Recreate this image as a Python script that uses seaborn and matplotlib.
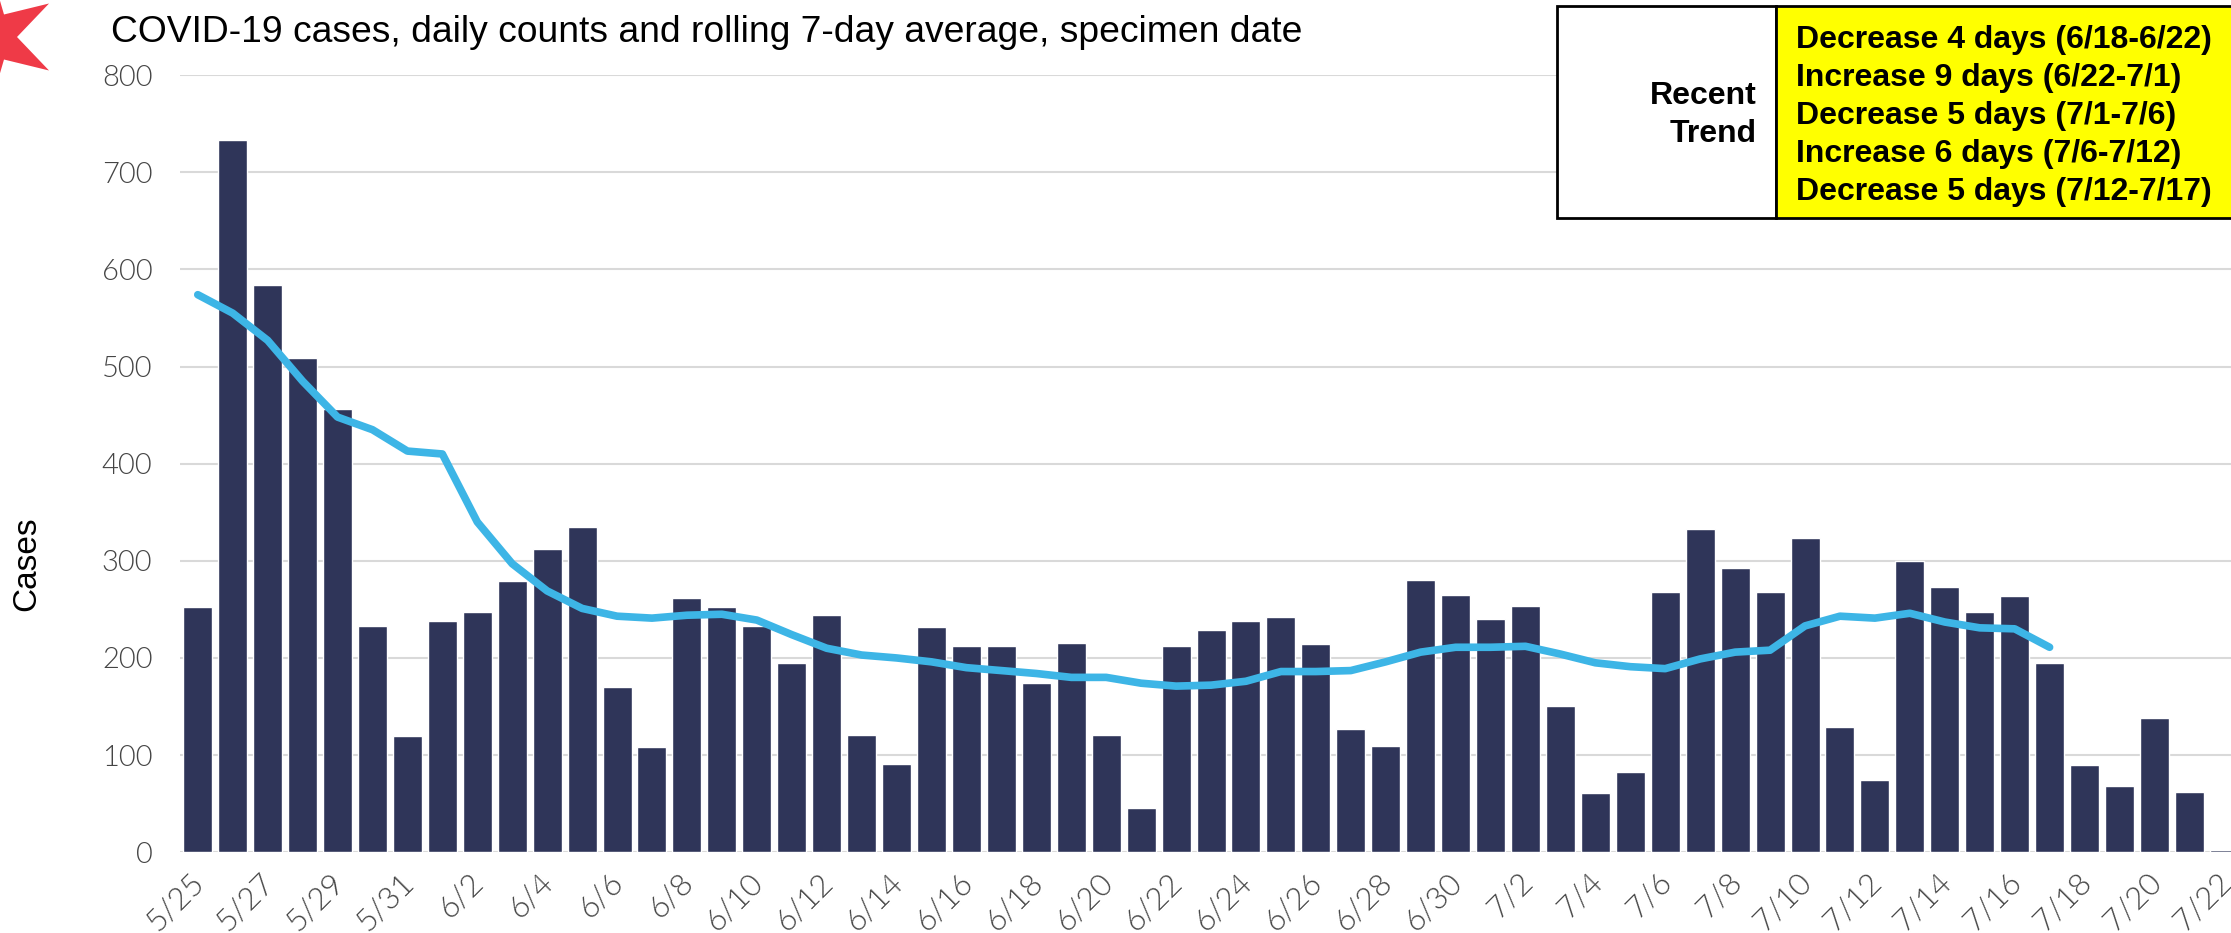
import numpy as np
import matplotlib
matplotlib.use("Agg")
import matplotlib.pyplot as plt
from matplotlib.patches import Polygon, Rectangle
from matplotlib.transforms import ScaledTranslation
import seaborn as sns

start_month_days = [("5", range(25, 32)), ("6", range(1, 31)), ("7", range(1, 23))]
days = [f"{m}/{d}" for m, rng in start_month_days for d in rng]

cases = [252, 733, 584, 509, 456, 233, 120, 238, 247, 279, 312, 335, 170, 108, 262,
         252, 233, 195, 244, 121, 91, 232, 212, 212, 174, 215, 121, 46, 212, 229,
         238, 242, 214, 127, 109, 280, 265, 240, 253, 151, 61, 83, 268, 333, 293,
         268, 324, 129, 74, 300, 273, 247, 264, 195, 90, 68, 138, 62, 2]
rolling_avg = [574, 555, 527, 485, 448, 435, 413, 410, 340, 297, 269, 251, 243, 241,
               244, 245, 239, 224, 210, 203, 200, 196, 190, 187, 184, 180, 180, 174,
               171, 172, 176, 186, 186, 187, 196, 206, 211, 211, 212, 204, 195, 191,
               189, 199, 206, 208, 233, 243, 241, 246, 237, 231, 230, 211]
y_ticks = [0, 100, 200, 300, 400, 500, 600, 700, 800]
trend_lines = ["Decrease 4 days (6/18-6/22)", "Increase 9 days (6/22-7/1)",
               "Decrease 5 days (7/1-7/6)", "Increase 6 days (7/6-7/12)",
               "Decrease 5 days (7/12-7/17)"]

W, H = 2231, 933
sns.set_theme(style="white")
plt.rcParams["font.family"] = ["Liberation Sans", "DejaVu Sans"]

fig = plt.figure(figsize=(W / 100, H / 100), dpi=100)
# axes runs past the right edge of the picture, the last bar gets cut
step = 34.94
ax = fig.add_axes([180.3 / W, 1 - 852.2 / H, step * 59 / W, 777 / H])


def px(x, y):
    # figure pixels from top left
    return x / W, 1 - y / H


sns.barplot(x=days, y=cases, color="#2F3559", width=0.83, saturation=1, ax=ax, zorder=2)
sns.lineplot(x=np.arange(len(rolling_avg)), y=rolling_avg, color="#3DB5E6", linewidth=5.5,
             solid_capstyle="round", ax=ax, zorder=3)

ax.set_xlim(-0.5, len(days) - 0.5)
ax.set_ylim(0, 800)
ax.set_yticks(y_ticks)
ax.set_xticks(range(0, len(days), 2))
ax.set_xticklabels(days[::2], rotation=45, ha="right", rotation_mode="anchor",
                   family="Lato", fontweight=300, fontsize=22.5, color="#454545")
ax.set_yticklabels(y_ticks, family="Lato", fontweight=300, fontsize=21, color="#454545")
ax.tick_params(axis="x", length=0, pad=11)
ax.tick_params(axis="y", length=0, pad=20)
# labels sit a bit left of the bar centres
label_shift = ScaledTranslation(-8 / 100, 0, fig.dpi_scale_trans)
for lab in ax.get_xticklabels():
    lab.set_transform(lab.get_transform() + label_shift)
ax.set_xlabel("")
ax.set_ylabel("")
ax.grid(axis="y", color="#D9D9D9", linewidth=1.5, zorder=0)
ax.set_axisbelow(True)
sns.despine(ax=ax, left=True, bottom=True, top=True, right=True)

fig.text(*px(111, 33), "COVID-19 cases, daily counts and rolling 7-day average, specimen date",
         fontsize=26.8, color="black", va="center", ha="left")
fig.text(*px(27, 564), "Cases", fontsize=24, rotation=90, va="center", ha="center", color="black")

# red star from the flag, mostly off the left edge
star_angles = np.deg2rad(np.arange(0, 360, 30))
star_radii = np.where(np.arange(12) % 2 == 0, 26, 67)
star_xy = [px(-9 + r * np.cos(a), 37 - r * np.sin(a)) for a, r in zip(star_angles, star_radii)]
fig.add_artist(Polygon(star_xy, closed=True, facecolor="#EF3A47", edgecolor="none",
                       transform=fig.transFigure))

# recent trend box
box_top, box_bottom = 6, 218
x0, x1, x2 = 1557, 1776, 2240
for left, right, fc in [(x0, x1, "white"), (x1, x2, "#FFFF00")]:
    fig.add_artist(Rectangle(px(left, box_bottom), (right - left) / W, (box_bottom - box_top) / H,
                             facecolor=fc, edgecolor="black", linewidth=2,
                             transform=fig.transFigure, zorder=5))
for i, label in enumerate(["Recent", "Trend"]):
    fig.text(*px(1757, 95.5 + 38 * i), label, fontsize=23, fontweight="bold", ha="right",
             va="center", color="black", zorder=6)
for i, label in enumerate(trend_lines):
    fig.text(*px(1796, 40 + 38 * i), label, fontsize=23, fontweight="bold", ha="left",
             va="center", color="black", zorder=6)

fig.savefig("out.png", dpi=100)
